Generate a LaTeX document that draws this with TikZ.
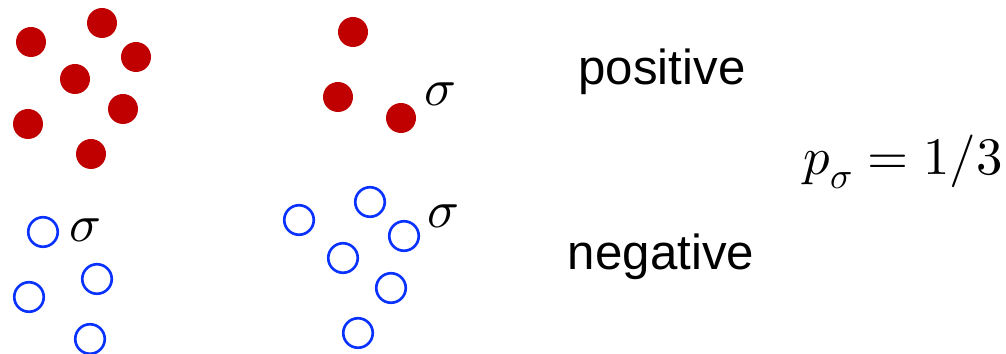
\documentclass[tikz,border=0pt]{standalone}
\usepackage{amsmath}
\usepackage{fontspec}
\usepackage{unicode-math}
\setmathfont{Latin Modern Math}
\newfontfamily\labelfont{Liberation Sans}
\usepackage{tikz}
\usepackage{xcolor}
\definecolor{posred}{HTML}{C00000}
\definecolor{negblue}{HTML}{0A32FF}

\begin{document}
\begin{tikzpicture}[
  font=\fontsize{28}{33}\selectfont,
  posdot/.style={circle, fill=posred, minimum size=6mm, inner sep=0pt},
  negdot/.style={circle, draw=negblue, line width=1.5pt, minimum size=5.9mm, inner sep=0pt},
  lbl/.style={inner sep=0pt, anchor=base},
  sig/.style={inner sep=0pt, anchor=base west, font=\fontsize{30}{35}\selectfont}
]
\useasboundingbox (0,0) rectangle (20.12,-7.08);
% positive samples
\node[posdot] (p1)  at (0.62,-0.84) {};
\node[posdot] (p2)  at (2.04,-0.46) {};
\node[posdot] (p3)  at (2.72,-1.14) {};
\node[posdot] (p4)  at (1.50,-1.58) {};
\node[posdot] (p5)  at (2.46,-2.18) {};
\node[posdot] (p6)  at (0.56,-2.48) {};
\node[posdot] (p7)  at (1.82,-3.08) {};
\node[posdot] (p8)  at (7.06,-0.64) {};
\node[posdot] (p9)  at (6.76,-1.94) {};
\node[posdot] (p10) at (8.02,-2.36) {};
% negative samples
\node[negdot] (n1)  at (0.86,-4.64) {};
\node[negdot] (n2)  at (1.94,-5.58) {};
\node[negdot] (n3)  at (0.58,-5.94) {};
\node[negdot] (n4)  at (1.80,-6.78) {};
\node[negdot] (n5)  at (5.98,-4.40) {};
\node[negdot] (n6)  at (7.40,-4.04) {};
\node[negdot] (n7)  at (8.08,-4.72) {};
\node[negdot] (n8)  at (6.86,-5.16) {};
\node[negdot] (n9)  at (7.82,-5.76) {};
\node[negdot] (n10) at (7.16,-6.66) {};
% sigma marks
\node[sig] (s1) at (8.48,-2.12) {$\sigma$};
\node[sig] (s2) at (1.38,-4.84) {$\sigma$};
\node[sig] (s3) at (8.54,-4.56) {$\sigma$};
% labels
\node[lbl] (poslbl) at (13.24,-1.70) {\labelfont positive};
\node[lbl] (neglbl) at (13.22,-5.40) {\labelfont negative};
\node[sig, anchor=base east] (prob) at (20.06,-3.50) {$p_\sigma = 1/3$};
\end{tikzpicture}
\end{document}
